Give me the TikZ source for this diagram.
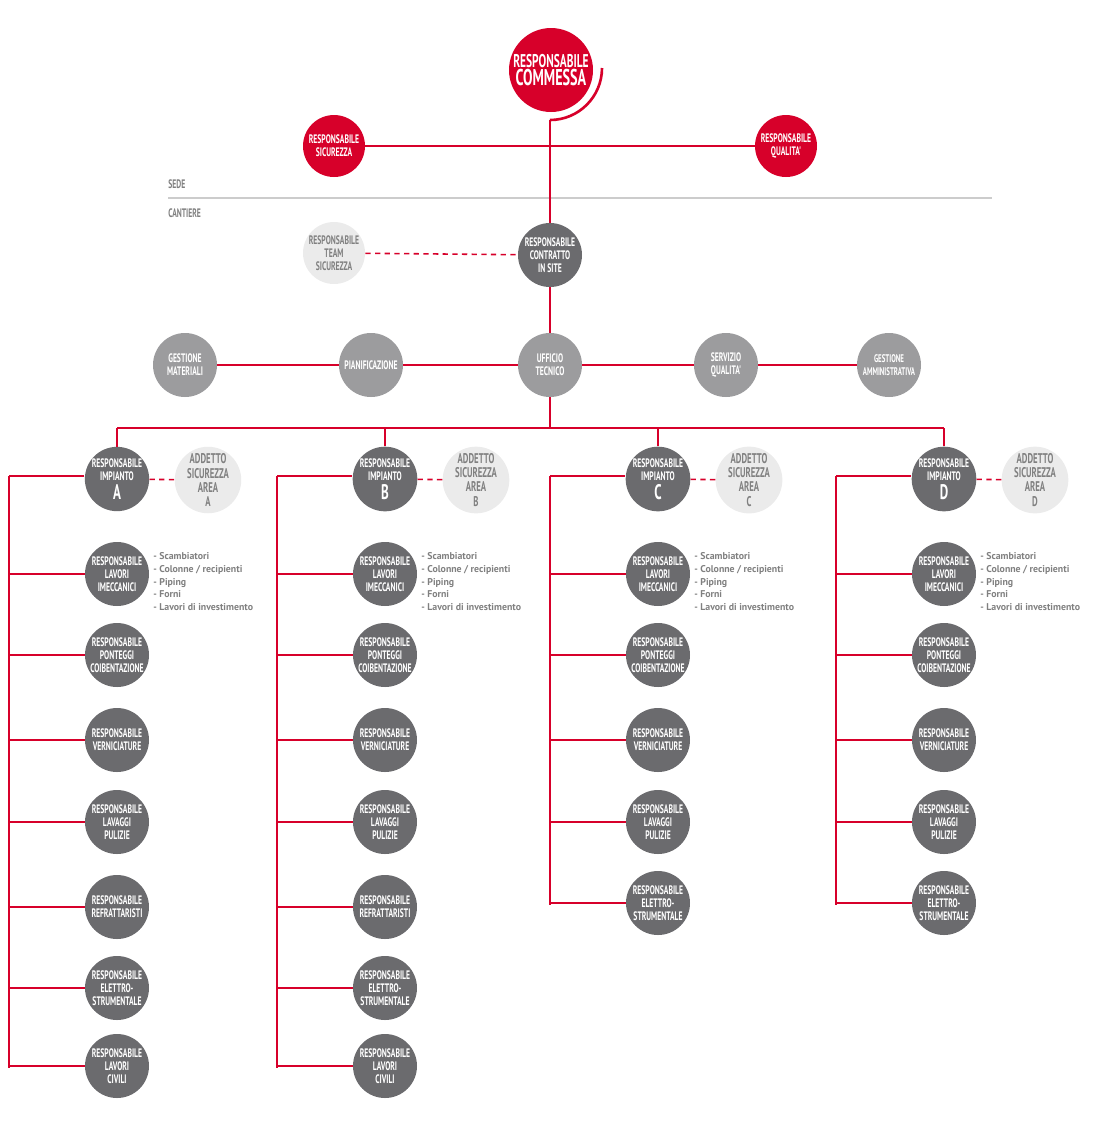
\documentclass[tikz,border=0pt]{standalone}
\usepackage{fontspec}
\setmainfont{PT Sans}
\newfontfamily\narrowfont[FakeStretch=0.62, UprightFont=* Bold]{PT Sans}
\usetikzlibrary{positioning}
\definecolor{rosso}{HTML}{D7002A}
\definecolor{scuro}{HTML}{6B6B6E}
\definecolor{medio}{HTML}{9C9C9E}
\definecolor{chiaro}{HTML}{EBEBEB}
\tikzset{
	ruolo/.style={circle, minimum size={#1*0.02cm}, inner sep=0pt, align=center, text=white, font=\narrowfont\fontsize{7}{7.4}\selectfont},
	ruolo/.default=64,
	capo/.style={ruolo=62, fill=rosso},
	cantiere/.style={ruolo=64, fill=scuro},
	ufficio/.style={ruolo=64, fill=medio},
	addetto/.style={ruolo=62, fill=chiaro, text=gray},
	linea/.style={rosso, line width=1.5pt},
	tratteggio/.style={rosso, line width=0.9pt, dash pattern=on 3pt off 2.5pt},
	elenco/.style={anchor=north west, align=left, text=gray, font=\bfseries\fontsize{5.6}{7.3}\selectfont, inner sep=0pt},
}
\begin{document}
\begin{tikzpicture}[x=0.02cm, y=-0.02cm]
	\useasboundingbox (0,0) rectangle (1101,1134);
	% sede
	\node[capo, ruolo=84, font=\narrowfont\fontsize{10.5}{10}\selectfont] (commessa) at (551,70) {RESPONSABILE\\{\fontsize{13}{12}\selectfont COMMESSA}};
	\node[capo] (sicurezza) at (334,146) {RESPONSABILE\\SICUREZZA};
	\node[capo] (qualita) at (786,146) {RESPONSABILE\\QUALITA'};
	\draw[linea] (602,68) arc[start angle=0, end angle=90, radius=52] coordinate (gomito);
	\draw[linea] (sicurezza) -- (qualita);
	\draw[gray!40, line width=1.5pt] (168,198) -- (992,198);
	\node[anchor=west, inner sep=0pt, text=gray, font=\narrowfont\fontsize{7}{7}\selectfont] (sede) at (168,184) {SEDE};
	\node[anchor=west, inner sep=0pt, text=gray, font=\narrowfont\fontsize{7}{7}\selectfont] (cant) at (168,213) {CANTIERE};
	% cantiere
	\node[cantiere] (contratto) at (550,255) {RESPONSABILE\\CONTRATTO\\IN SITE};
	\node[addetto] (team) at (334,253) {RESPONSABILE\\TEAM\\SICUREZZA};
	\draw[linea] (gomito) -- (contratto);
	\draw[tratteggio] (team) -- (contratto);
	\node[ufficio] (tecnico) at (550,365) {UFFICIO\\TECNICO};
	\node[ufficio] (materiali) at (185,365) {GESTIONE\\MATERIALI};
	\node[ufficio] (pianif) at (371,365) {PIANIFICAZIONE};
	\node[ufficio] (servizio) at (726,365) {SERVIZIO\\QUALITA'};
	\node[ufficio, font=\narrowfont\fontsize{6.3}{7}\selectfont] (amm) at (889,365) {GESTIONE\\AMMINISTRATIVA};
	\draw[linea] (contratto) -- (tecnico);
	\draw[linea] (materiali) -- (pianif) -- (tecnico) -- (servizio) -- (amm);
	\coordinate (bus) at (550,428);
	\draw[linea] (tecnico) -- (bus);
	\draw[linea] (117,428) -- (944,428);
	% aree
	\foreach \a/\x/\n in {A/117/7, B/385/7, C/658/6, D/944/6}{
		\pgfmathsetmacro{\sx}{\x-108}
		\node[cantiere] (imp\a) at (\x,479) {RESPONSABILE\\IMPIANTO\\[1pt]{\fontsize{12}{12}\selectfont \a}};
		\node[addetto, font=\narrowfont\fontsize{8}{8}\selectfont] (add\a) at (\x+91,480) {ADDETTO\\SICUREZZA\\AREA\\\a};
		\draw[linea] (\x,428) -- (imp\a);
		\draw[tratteggio] (imp\a) -- (add\a);
		\coordinate (top\a) at (\sx,476);
		\draw[linea] (top\a) -- (imp\a.west |- top\a);
		\node[cantiere] (mecc\a) at (\x,574) {RESPONSABILE\\LAVORI\\IMECCANICI};
		\node[cantiere] (pont\a) at (\x,655) {RESPONSABILE\\PONTEGGI\\COIBENTAZIONE};
		\node[cantiere] (vern\a) at (\x,740) {RESPONSABILE\\VERNICIATURE};
		\node[cantiere] (lav\a) at (\x,822) {RESPONSABILE\\LAVAGGI\\PULIZIE};
		\node[elenco] (voci\a) at (\x+36,552) {- Scambiatori\\- Colonne / recipienti\\- Piping\\- Forni\\- Lavori di investimento};
		\foreach \k in {mecc,pont,vern,lav}
			\draw[linea] (\k\a.west) -- (\sx,0 |- \k\a.west);
	}
	\foreach \a/\x in {A/117, B/385}{
		\node[cantiere] (refr\a) at (\x,907) {RESPONSABILE\\REFRATTARISTI};
		\node[cantiere] (elet\a) at (\x,988) {RESPONSABILE\\ELETTRO-\\STRUMENTALE};
		\node[cantiere] (civ\a) at (\x,1066) {RESPONSABILE\\LAVORI\\CIVILI};
		\foreach \k in {refr,elet,civ}
			\draw[linea] (\k\a.west) -- (\x-108,0 |- \k\a.west);
		\draw[linea] (top\a) -- (\x-108,1068);
	}
	\foreach \a/\x in {C/658, D/944}{
		\node[cantiere] (elet\a) at (\x,903) {RESPONSABILE\\ELETTRO-\\STRUMENTALE};
		\draw[linea] (elet\a.west) -- (\x-108,0 |- elet\a.west);
		\draw[linea] (top\a) -- (\x-108,905);
	}
\end{tikzpicture}
\end{document}
